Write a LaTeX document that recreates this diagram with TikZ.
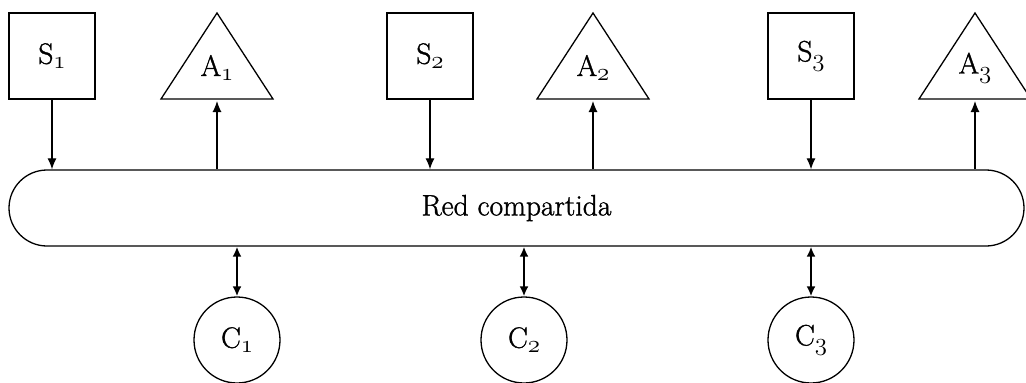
\documentclass[tikz,border=0pt]{standalone}
\usepackage{fontspec}
\newfontfamily\heavyfont{Latin Modern Roman}[FakeBold=1.2]
\usetikzlibrary{arrows.meta}
\newcommand{\osub}[1]{\raisebox{-5pt}{\fontsize{24.88}{26}\usefont{OML}{cmm}{m}{it}#1}}
\begin{document}
\begin{tikzpicture}[x=1pt,y=-1pt,
  lbl/.style={font=\heavyfont\fontsize{29.5}{33}\selectfont},
  sbox/.style={draw,line width=1.3pt,minimum width=86pt,minimum height=86pt,inner sep=0pt,lbl},
  cnode/.style={draw,line width=1.3pt,circle,minimum size=86pt,inner sep=0pt,lbl},
  tri/.style={draw,line width=1.3pt,line join=miter},
  arr/.style={line width=1.2pt,-{Latex[length=11pt,width=9pt]}},
  darr/.style={line width=2.2pt,{Latex[length=10pt,width=9pt]}-{Latex[length=10pt,width=9pt]}}]
\useasboundingbox (0,0) rectangle (1026,383);
% network
\node[draw,line width=1.3pt,rounded corners=38pt,minimum width=1015pt,minimum height=76pt,inner sep=0pt,lbl] (net) at (516.5,208) {Red compartida};
% sensors
\node[sbox] (s1) at (52,56) {S\osub{1}};
\node[sbox] (s2) at (430,56) {S\osub{2}};
\node[sbox] (s3) at (811,56) {S\osub{3}};
% actuators (triangles)
\foreach \i/\x in {1/217,2/593,3/975}{
  \draw[tri] (\x,13) -- (\x+56,99) -- (\x-56,99) -- cycle;
  \coordinate (a\i) at (\x,99);
  \node[lbl] (at\i) at (\x,68) {A\osub{\i}};
}
% controllers
\node[cnode] (c1) at (237,340) {C\osub{1}};
\node[cnode] (c2) at (524,340) {C\osub{2}};
\node[cnode] (c3) at (811,340) {C\osub{3}};
% connectors
\draw[arr] (s1.south) -- (s1.south |- net.north);
\draw[arr] (s2.south) -- (s2.south |- net.north);
\draw[arr] (s3.south) -- (s3.south |- net.north);
\draw[arr] (a1 |- net.north) -- ([yshift=-2pt]a1);
\draw[arr] (a2 |- net.north) -- ([yshift=-2pt]a2);
\draw[arr] (a3 |- net.north) -- ([yshift=-2pt]a3);
\draw[darr] (c1.north |- net.south) -- (c1.north);
\draw[darr] (c2.north |- net.south) -- (c2.north);
\draw[darr] (c3.north |- net.south) -- (c3.north);
\end{tikzpicture}
\end{document}
